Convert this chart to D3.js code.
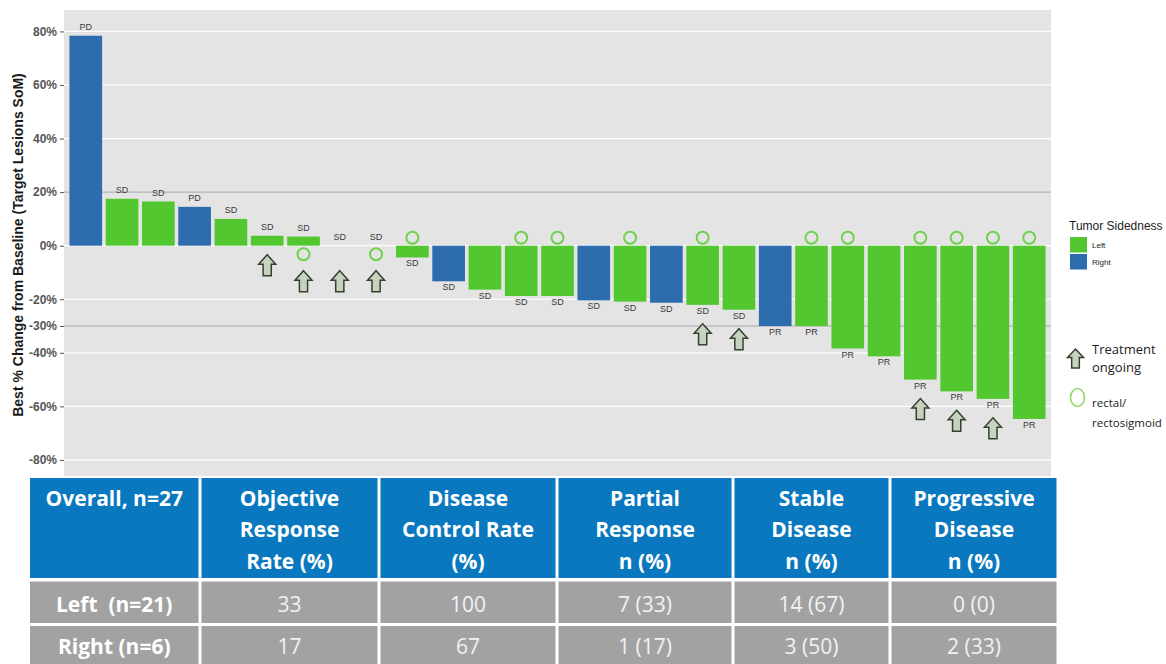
<!DOCTYPE html>
<html>
<head>
<meta charset="utf-8">
<script src="https://cdn.jsdelivr.net/npm/d3@7"></script>
<style>
  html, body { margin: 0; padding: 0; background: #fff; }
  svg { display: block; }
  text { white-space: pre; }
</style>
</head>
<body>
<svg id="chart" width="1166" height="664"></svg>
<script>
// ---------- data ----------
const patientIds = d3.range(1, 28);
const bestChange = [78.4, 17.5, 16.5, 14.5, 10, 3.7, 3.4, 0, 0, -4.4, -13.3, -16.4, -18.8, -18.8,
  -20.4, -20.9, -21.3, -22.1, -23.9, -30, -30, -38.4, -41.3, -50, -54.4, -57.2, -64.7];
const sidedness = ["Right","Left","Left","Right","Left","Left","Left","Left","Left","Left",
  "Right","Left","Left","Left","Right","Left","Right","Left","Left","Right",
  "Left","Left","Left","Left","Left","Left","Left"];
const responses = ["PD","SD","SD","PD","SD","SD","SD","SD","SD","SD","SD","SD","SD","SD",
  "SD","SD","SD","SD","SD","PR","PR","PR","PR","PR","PR","PR","PR"];
const treatmentOngoing = [6, 7, 8, 9, 18, 19, 24, 25, 26];
const rectalSites = [7, 9, 10, 13, 14, 16, 18, 21, 22, 24, 25, 26, 27];
const yTicks = [80, 60, 40, 20, 0, -20, -30, -40, -60, -80];
const refLines = [20, -30];
const sideLevels = ["Left", "Right"];

const tableHeaders = [["Overall, n=27"], ["Objective", "Response", "Rate (%)"],
  ["Disease", "Control Rate", "(%)"], ["Partial", "Response", "n (%)"],
  ["Stable", "Disease", "n (%)"], ["Progressive", "Disease", "n (%)"]];
const rowLabels = ["Left  (n=21)", "Right (n=6)"];
const leftRow = ["33", "100", "7 (33)", "14 (67)", "0 (0)"];
const rightRow = ["17", "67", "1 (17)", "3 (50)", "2 (33)"];

// ---------- setup ----------
const svg = d3.select("#chart");
const panel = {x0: 64, x1: 1051, y0: 10, y1: 476};
const color = d3.scaleOrdinal().domain(sideLevels).range(["#53c72f", "#2d6cad"]);

const x = d3.scaleBand().domain(patientIds).range([panel.x0, panel.x1])
  .paddingInner(0.1).paddingOuter(0.15);
const y = d3.scaleLinear().domain([-86, 88]).range([panel.y1, panel.y0]);

const data = patientIds.map((id, i) => ({
  id, v: bestChange[i], side: sidedness[i], resp: responses[i],
  ongoing: treatmentOngoing.includes(id), rectal: rectalSites.includes(id)
}));

// panel background
svg.append("rect").attr("x", panel.x0).attr("y", panel.y0)
  .attr("width", panel.x1 - panel.x0).attr("height", panel.y1 - panel.y0)
  .attr("fill", "#e4e4e4");

// gridlines
svg.append("g").selectAll("line").data(yTicks.filter(t => !refLines.includes(t))).join("line")
  .attr("x1", panel.x0).attr("x2", panel.x1)
  .attr("y1", d => y(d)).attr("y2", d => y(d))
  .attr("stroke", "#ffffff").attr("stroke-width", 1.2);
svg.append("g").selectAll("line").data(refLines).join("line")
  .attr("x1", panel.x0).attr("x2", panel.x1)
  .attr("y1", d => y(d)).attr("y2", d => y(d))
  .attr("stroke", "#a9a9a9").attr("stroke-width", 1);

// y axis
const yAxis = svg.append("g").attr("transform", `translate(${panel.x0},0)`)
  .call(d3.axisLeft(y).tickValues(yTicks).tickFormat(d => d + "%").tickSize(4).tickPadding(3));
yAxis.select(".domain").remove();
yAxis.selectAll(".tick line").attr("stroke", "#555");
yAxis.selectAll(".tick text").attr("fill", "#555").attr("font-family", "Liberation Sans, Arial, sans-serif")
  .attr("font-size", 12).attr("font-weight", "bold");

svg.append("text")
  .attr("transform", `translate(23,245) rotate(-90)`)
  .attr("text-anchor", "middle")
  .attr("font-family", "Liberation Sans, Arial, sans-serif")
  .attr("font-size", 14).attr("font-weight", "bold").attr("fill", "#1a1a1a")
  .text("Best % Change from Baseline (Target Lesions SoM)");

// bars
svg.append("g").selectAll("rect").data(data).join("rect")
  .attr("x", d => x(d.id)).attr("width", x.bandwidth())
  .attr("y", d => y(Math.max(d.v, 0)))
  .attr("height", d => Math.abs(y(d.v) - y(0)))
  .attr("fill", d => color(d.side));

// response labels
svg.append("g").selectAll("text").data(data).join("text")
  .attr("x", d => x(d.id) + x.bandwidth() / 2)
  .attr("y", d => d.v >= 0 ? y(d.v) - 5.5 : y(d.v) + 9)
  .attr("text-anchor", "middle")
  .attr("font-family", "Liberation Sans, Arial, sans-serif")
  .attr("font-size", 9).attr("fill", "#3a3a3a")
  .text(d => d.resp);

// rectal circles
svg.append("g").selectAll("circle").data(data.filter(d => d.rectal)).join("circle")
  .attr("cx", d => x(d.id) + x.bandwidth() / 2)
  .attr("cy", d => d.v < 0 ? y(0) - 8 : y(0) + 8.5)
  .attr("r", 6)
  .attr("fill", "none").attr("stroke", "#6fd04b").attr("stroke-width", 2);

// arrows
function arrowPath(cx, top, w, h) {
  const hw = w / 2, bw = w * 0.24, hh = h * 0.45;
  return `M${cx},${top} L${cx + hw},${top + hh} L${cx + bw},${top + hh} L${cx + bw},${top + h} ` +
    `L${cx - bw},${top + h} L${cx - bw},${top + hh} L${cx - hw},${top + hh} Z`;
}
svg.append("g").selectAll("path").data(data.filter(d => d.ongoing)).join("path")
  .attr("d", d => {
    const cx = x(d.id) + x.bandwidth() / 2;
    const top = d.v < 0 ? y(d.v) + 19 : y(0) + ((d.rectal || d.v === 0) ? 25 : 9);
    return arrowPath(cx, top, 17, 21);
  })
  .attr("fill", "#c7d2bf").attr("stroke", "#33422f").attr("stroke-width", 1.5)
  .attr("stroke-linejoin", "miter");

// legend
const lg = svg.append("g");
lg.append("text").attr("x", 1069).attr("y", 230)
  .attr("font-family", "Liberation Sans, Arial, sans-serif").attr("font-size", 12).attr("fill", "#222")
  .text("Tumor Sidedness");
sideLevels.forEach((s, i) => {
  lg.append("rect").attr("x", 1070).attr("y", 237 + i * 17).attr("width", 17).attr("height", 15.5)
    .attr("fill", color(s));
  lg.append("text").attr("x", 1092).attr("y", 248 + i * 17)
    .attr("font-family", "Liberation Sans, Arial, sans-serif").attr("font-size", 8).attr("fill", "#222")
    .text(s);
});
lg.append("path").attr("d", arrowPath(1075.5, 349, 16, 19))
  .attr("fill", "#c7d2bf").attr("stroke", "#33422f").attr("stroke-width", 1.5);
lg.append("text").attr("x", 1092).attr("y", 354)
  .attr("font-family", "Open Sans, sans-serif").attr("font-size", 13).attr("fill", "#222")
  .text("Treatment");
lg.append("text").attr("x", 1092).attr("y", 372)
  .attr("font-family", "Open Sans, sans-serif").attr("font-size", 13).attr("fill", "#222")
  .text("ongoing");
lg.append("ellipse").attr("cx", 1077.5).attr("cy", 397.5).attr("rx", 7).attr("ry", 9)
  .attr("fill", "none").attr("stroke", "#8cd96a").attr("stroke-width", 1.6);
lg.append("text").attr("x", 1092).attr("y", 407)
  .attr("font-family", "Open Sans, sans-serif").attr("font-size", 11.5).attr("fill", "#222")
  .text("rectal/");
lg.append("text").attr("x", 1092).attr("y", 427)
  .attr("font-family", "Open Sans, sans-serif").attr("font-size", 11.5).attr("fill", "#222")
  .text("rectosigmoid");

// ---------- table ----------
const colEdges = [28.5, 200, 379, 557, 733, 890, 1058];
const rowEdges = [478, 580, 624.5, 668];
const tg = svg.append("g");
tg.append("rect").attr("x", colEdges[0]).attr("y", rowEdges[0])
  .attr("width", colEdges[6] - colEdges[0]).attr("height", 664 - rowEdges[0]).attr("fill", "#fff");
const font = "Open Sans, Lato, sans-serif";
tableHeaders.forEach((lines, c) => {
  const x0 = colEdges[c], x1 = colEdges[c + 1];
  tg.append("rect").attr("x", x0 + 1.5).attr("y", rowEdges[0])
    .attr("width", x1 - x0 - 3).attr("height", rowEdges[1] - rowEdges[0] - 2)
    .attr("fill", "#0a78be");
  lines.forEach((ln, k) => {
    tg.append("text").attr("x", (x0 + x1) / 2).attr("y", 505.5 + k * 31.5)
      .attr("text-anchor", "middle").attr("font-family", font)
      .attr("font-size", 21).attr("font-weight", 700).attr("fill", "#fff")
      .text(ln);
  });
});
[leftRow, rightRow].forEach((row, r) => {
  const y0 = rowEdges[r + 1], y1 = rowEdges[r + 2];
  const cells = [rowLabels[r]].concat(row);
  cells.forEach((val, c) => {
    const x0 = colEdges[c], x1 = colEdges[c + 1];
    tg.append("rect").attr("x", x0 + 1.5).attr("y", y0 + 1.5)
      .attr("width", x1 - x0 - 3).attr("height", y1 - y0 - 3)
      .attr("fill", "#a2a2a2");
    tg.append("text").attr("x", (x0 + x1) / 2).attr("y", r === 0 ? 612 : 654)
      .attr("text-anchor", "middle").attr("font-family", font)
      .attr("font-size", 21).attr("font-weight", c === 0 ? 700 : 400)
      .attr("fill", c === 0 ? "#ffffff" : "#f2f2f2")
      .text(val);
  });
});
</script>
</body>
</html>
